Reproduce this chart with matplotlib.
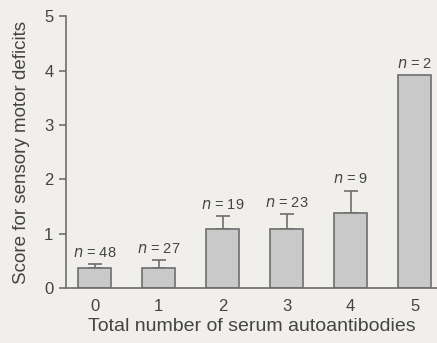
import matplotlib

matplotlib.use("Agg")
import matplotlib.pyplot as plt

# data
n_antibodies = [0, 1, 2, 3, 4, 5]
mean_score = [0.37, 0.37, 1.08, 1.08, 1.38, 3.92]
err_upper = [0.07, 0.14, 0.24, 0.28, 0.41, 0.0]
n_labels = ["48", "27", "19", "23", "9", "2"]

BG = "#f1efec"
FILL = "#c9c9c9"
EDGE = "#6e6e6e"
TEXT = "#444444"

plt.rcParams["font.family"] = ["Liberation Sans Narrow", "Liberation Sans", "DejaVu Sans"]
plt.rcParams["mathtext.fontset"] = "custom"
plt.rcParams["mathtext.it"] = "Liberation Sans Narrow:italic"
plt.rcParams["mathtext.rm"] = "Liberation Sans Narrow"

fig = plt.figure(figsize=(4.37, 3.43), dpi=100, facecolor=BG)
ax = fig.add_axes([0.151, 0.160, 0.849, 0.793])
ax.set_facecolor(BG)

ax.bar(n_antibodies, mean_score, width=0.52, color=FILL, edgecolor=EDGE,
       linewidth=1.2, zorder=2)

# only the upper half of the error bars is drawn
for x, y, e in zip(n_antibodies, mean_score, err_upper):
    if e <= 0:
        continue
    ax.errorbar(x, y, yerr=[[0], [e]], fmt="none", ecolor=EDGE,
                elinewidth=1.2, capsize=5, capthick=1.2, zorder=1)

for x, y, e, n in zip(n_antibodies, mean_score, err_upper, n_labels):
    ax.text(x, y + e + 0.08, f"$n$ = {n}", ha="center", va="bottom",
            fontsize=10.5, color=TEXT)

ax.set_xlim(-0.45, 5.35)
ax.set_ylim(0, 5)
ax.set_yticks([0, 1, 2, 3, 4, 5])
ax.set_xticks(n_antibodies)

for side in ["top", "right"]:
    ax.spines[side].set_visible(False)
for side in ["left", "bottom"]:
    ax.spines[side].set_color(EDGE)
    ax.spines[side].set_linewidth(1.2)

ax.tick_params(axis="y", colors=TEXT, labelsize=12, length=5, width=1.2,
               color=EDGE, pad=4)
ax.tick_params(axis="x", colors=TEXT, labelsize=12, length=0, pad=8)

ax.set_ylabel("Score for sensory motor deficits", fontsize=13.5, color=TEXT,
              labelpad=10)
ax.set_xlabel("Total number of serum autoantibodies", fontsize=14,
              color=TEXT, labelpad=3)

fig.savefig("out.png", dpi=100, facecolor=BG)
